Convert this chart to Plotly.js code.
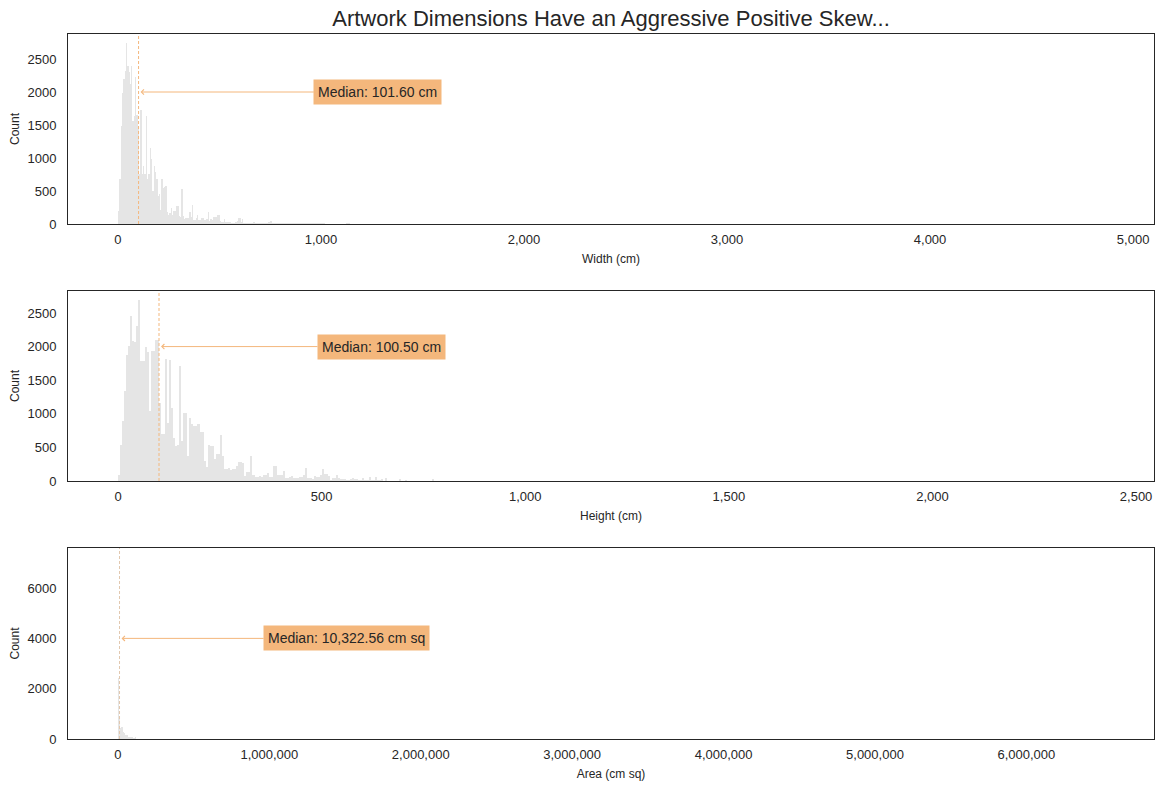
<!DOCTYPE html>
<html>
<head>
<meta charset="utf-8">
<script src="https://cdn.plot.ly/plotly-3.0.1.min.js"></script>
<style>html,body{margin:0;padding:0;background:#fff;}#chart{width:1164px;height:788px;}</style>
</head>
<body>
<div id="chart"></div>
<script>
// ---------- DATA ----------
const chartTitle = 'Artwork Dimensions Have an Aggressive Positive Skew...';

// Width histogram (bin width 6.5 cm, starting at 0)
const widthBinSize = 6.5;
const widthCounts = [
  200, 680, 1490, 1980, 2200, 2320, 2740, 2400, 2310, 2120,
  2400, 1565, 1640, 2230, 1650, 1470, 760, 1730, 760, 885,
  760, 1640, 680, 760, 1150, 985, 505, 885, 790, 680,
  430, 455, 210, 680, 545, 555, 580, 180, 130, 170,
  250, 136, 200, 190, 270, 270, 120, 105, 530, 120,
  75, 85, 85, 85, 180, 100, 290, 60, 60, 90,
  136, 60, 60, 90, 85, 60, 60, 80, 180, 45,
  75, 60, 100, 110, 100, 136, 136, 45, 35, 35,
  75, 35, 25, 30, 25, 25, 20, 20, 20, 25,
  45, 85, 85, 25, 70, 15, 12, 10, 12, 15,
  10, 12, 25, 25, 12, 10, 15, 20, 20, 15,
  20, 15, 20, 15, 25, 50, 50, 15, 15, 12,
  15, 15, 12, 15, 15, 12, 15, 15, 20, 20,
  15, 10, 10, 20, 20, 15, 15, 15, 12, 15,
  15, 12, 15, 12, 15, 10, 10, 10, 10, 15,
  15, 12, 15, 12, 10, 10, 10, 5, 5, 6,
  5, 5, 5, 4, 5, 5, 5, 6, 5, 5,
  4, 5, 5, 15, 15, 8, 5, 5, 4, 5,
  5, 4, 5, 5, 4, 5, 2, 2, 3, 2, 2
];
const widthMedian = 101.60;

// Height histogram (bin width 5 cm, starting at 0)
const heightBinSize = 5;
const heightCounts = [
  89, 536, 900, 1340, 1875, 2009, 2455, 2083, 2073, 2306,
  2688, 1785, 1785, 1994, 1924, 1042, 1934, 1934, 2093, 2093,
  1166, 694, 694, 1810, 868, 1795, 1091, 645, 521, 536,
  1711, 600, 1016, 1016, 372, 933, 848, 818, 818, 848,
  734, 734, 302, 203, 536, 521, 521, 322, 402, 402,
  684, 372, 174, 174, 189, 164, 174, 174, 223, 288,
  288, 263, 74, 134, 134, 372, 89, 55, 55, 74,
  55, 89, 89, 114, 55, 55, 223, 223, 89, 89,
  89, 149, 40, 40, 55, 74, 40, 40, 40, 55,
  55, 89, 198, 40, 40, 25, 74, 55, 55, 89,
  179, 104, 104, 74, 15, 40, 40, 89, 40, 25,
  25, 25, 15, 15, 25, 40, 25, 25, 10, 10,
  40, 10, 10, 55, 10, 10, 55, 10, 10, 25,
  5, 40, 5, 5, 5, 5, 5, 5, 25, 5,
  5, 15, 3, 2, 3, 4, 2, 3, 2, 3,
  2, 2, 3, 2, 25
];
const heightMedian = 100.50;

// Area histogram (bin width 6,500 cm sq, starting at 0)
const areaBinSize = 6500;
const areaCounts = [
  2412, 888, 424, 490, 490, 292, 225, 159, 159, 159,
  66, 66, 66, 66, 66, 40, 40, 93, 20, 20,
  20, 20, 20, 20, 20, 20, 20, 20, 20, 20,
  20, 20, 20, 5, 5, 5, 5, 5, 5, 5,
  5, 5, 5, 5, 5, 5
];
const areaMedian = 10322.56;

const xLabels = ['Width (cm)', 'Height (cm)', 'Area (cm sq)'];
const medianTexts = ['Median: 101.60 cm', 'Median: 100.50 cm', 'Median: 10,322.56 cm sq'];

// ---------- STYLE ----------
const barColor = '#e5e5e5';
const accent = '#f4b77c';
const ink = '#262626';

function hist(counts, size, xa, ya) {
  return {
    type: 'bar', y: counts, x0: size / 2, dx: size,
    xaxis: xa, yaxis: ya,
    marker: {color: barColor, line: {width: 0}},
    hoverinfo: 'skip'
  };
}

const data = [
  hist(widthCounts, widthBinSize, 'x', 'y'),
  hist(heightCounts, heightBinSize, 'x2', 'y2'),
  hist(areaCounts, areaBinSize, 'x3', 'y3')
];

const axBase = {
  showline: true, mirror: true, linecolor: ink, linewidth: 1,
  showgrid: false, zeroline: false, ticks: '',
  tickfont: {size: 13, color: ink}, automargin: false
};
const xBase = Object.assign({}, axBase, {tickformat: ',d', ticklabelstandoff: 3});
const yBase = Object.assign({}, axBase, {tickformat: 'd', ticklabelstandoff: 8});
const H = 788;
function dom(top, bottom) { // pixel rows -> paper
  const t = 34, b = 49, ph = H - t - b;
  return [1 - (bottom - t) / ph, 1 - (top - t) / ph];
}

const layout = {
  width: 1164, height: 788,
  margin: {l: 68, r: 10, t: 34, b: 49},
  paper_bgcolor: '#fff', plot_bgcolor: '#fff',
  font: {family: 'Liberation Sans, Arial, sans-serif', size: 13, color: ink},
  title: {text: chartTitle, font: {size: 22, color: ink}, x: 0.5, xref: 'paper',
          xanchor: 'center', y: 1 - 18 / 788, yref: 'container', yanchor: 'middle'},
  showlegend: false,
  bargap: 0,
  xaxis: Object.assign({}, xBase, {anchor: 'y', range: [-246, 5103], dtick: 1000,
          title: {text: xLabels[0], font: {size: 12}, standoff: 9}}),
  yaxis: Object.assign({}, yBase, {anchor: 'x', domain: dom(34, 224), range: [0, 2879], dtick: 500,
          title: {text: 'Count', font: {size: 12}, standoff: 5}}),
  xaxis2: Object.assign({}, xBase, {anchor: 'y2', range: [-123, 2544], dtick: 500,
          title: {text: xLabels[1], font: {size: 12}, standoff: 9}}),
  yaxis2: Object.assign({}, yBase, {anchor: 'x2', domain: dom(291, 481), range: [0, 2827], dtick: 500,
          title: {text: 'Count', font: {size: 12}, standoff: 5}}),
  xaxis3: Object.assign({}, xBase, {anchor: 'y3', range: [-330000, 6843000], dtick: 1000000,
          title: {text: xLabels[2], font: {size: 12}, standoff: 9}}),
  yaxis3: Object.assign({}, yBase, {anchor: 'x3', domain: dom(548, 739), range: [0, 7594], dtick: 2000,
          title: {text: 'Count', font: {size: 12}, standoff: 5}}),
  shapes: [
    {type: 'line', xref: 'x', yref: 'y domain', x0: widthMedian, x1: widthMedian, y0: 0, y1: 1,
     line: {color: accent, width: 1, dash: '3px,2px'}},
    {type: 'line', xref: 'x2', yref: 'y2 domain', x0: heightMedian, x1: heightMedian, y0: 0, y1: 1,
     line: {color: accent, width: 1, dash: '3px,2px'}},
    {type: 'line', xref: 'x3', yref: 'y3 domain', x0: areaMedian, x1: areaMedian, y0: 0, y1: 1,
     line: {color: '#e2c8ae', width: 1, dash: '3px,2px'}}
  ],
  annotations: [
    {xref: 'x', yref: 'y', axref: 'x', ayref: 'y', x: widthMedian, y: 2000, ax: 1280, ay: 2000,
     text: medianTexts[0], showarrow: true, arrowhead: 4, arrowsize: 1, arrowwidth: 1,
     arrowcolor: accent, standoff: 2, bgcolor: accent, borderpad: 4, font: {size: 14, color: ink}},
    {xref: 'x2', yref: 'y2', axref: 'x2', ayref: 'y2', x: heightMedian, y: 2000, ax: 647, ay: 2000,
     text: medianTexts[1], showarrow: true, arrowhead: 4, arrowsize: 1, arrowwidth: 1,
     arrowcolor: accent, standoff: 2, bgcolor: accent, borderpad: 4, font: {size: 14, color: ink}},
    {xref: 'x3', yref: 'y3', axref: 'x3', ayref: 'y3', x: areaMedian, y: 4000, ax: 1510000, ay: 4000,
     text: medianTexts[2], showarrow: true, arrowhead: 4, arrowsize: 1, arrowwidth: 1,
     arrowcolor: accent, standoff: 2, bgcolor: accent, borderpad: 4, font: {size: 14, color: ink}}
  ]
};

Plotly.newPlot('chart', data, layout, {displayModeBar: false, staticPlot: true});
</script>
</body>
</html>
